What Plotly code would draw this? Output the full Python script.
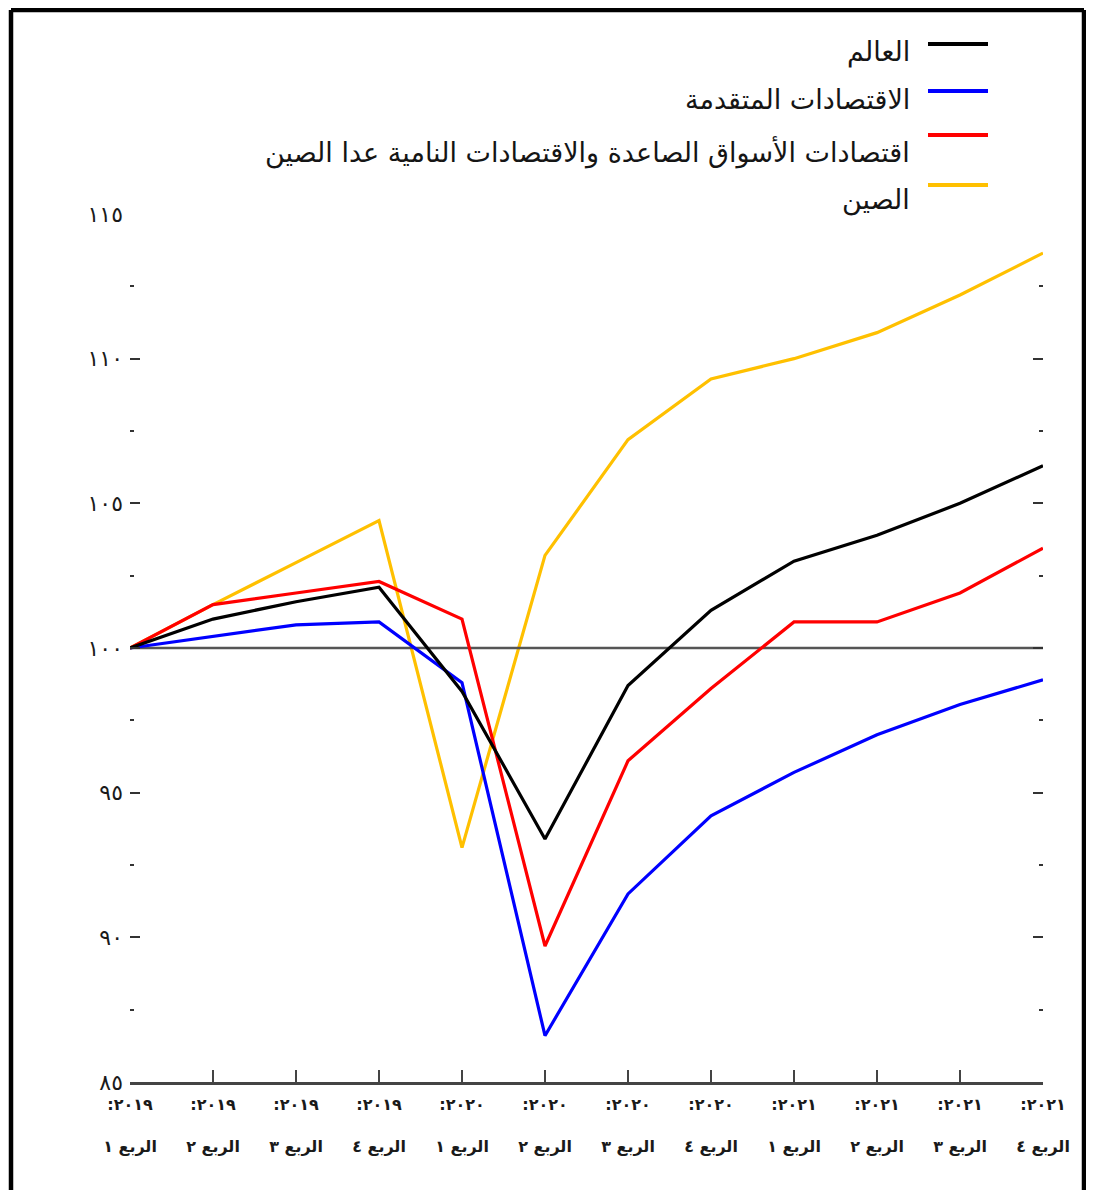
import plotly.graph_objects as go

# ---- data ----
quarters = ["الربع ١", "الربع ٢", "الربع ٣", "الربع ٤"] * 3
years = ["٢٠١٩"] * 4 + ["٢٠٢٠"] * 4 + ["٢٠٢١"] * 4
series_names = [
    "العالم",
    "الاقتصادات المتقدمة",
    "اقتصادات الأسواق الصاعدة والاقتصادات النامية عدا الصين",
    "الصين",
]
world = [100, 101.0, 101.6, 102.1, 98.5, 93.4, 98.7, 101.3, 103.0, 103.9, 105.0, 106.3]
advanced = [100, 100.4, 100.8, 100.9, 98.8, 86.6, 91.5, 94.2, 95.7, 97.0, 98.05, 98.9]
emerging = [100, 101.5, 101.9, 102.3, 101.0, 89.7, 96.1, 98.6, 100.9, 100.9, 101.9, 103.45]
china = [100, 101.5, 102.95, 104.4, 93.1, 103.2, 107.2, 109.3, 110.0, 110.9, 112.2, 113.65]
baseline = 100
y_ticks = [85, 90, 95, 100, 105, 110, 115]
y_ticktext = ["٨٥", "٩٠", "٩٥", "١٠٠", "١٠٥", "١١٠", "١١٥"]
y_minor = [87.5, 92.5, 97.5, 102.5, 107.5, 112.5]

colors = ["#000000", "#0000ff", "#ff0000", "#ffc000"]

x = list(range(len(quarters)))
ticktext = ["<b>:" + y + "</b><br> <br><b>" + q + "</b>" for y, q in zip(years, quarters)]

# page offset from the html body margin (8px on every side)
OFF = 8
W, H = 1094 - 2 * OFF, 1198 - 2 * OFF
L, T = 130 - OFF, 214 - OFF
pw, ph = 913, 868
R = W - L - pw
B = H - T - ph

def px(xpage):
    return (xpage - OFF - L) / pw

def py(ypage):
    return (T + ph - (ypage - OFF)) / ph

fig = go.Figure()
# draw order: china, baseline, advanced, emerging, world
fig.add_trace(go.Scatter(x=x, y=china, mode="lines", line=dict(color=colors[3], width=3.2),
                         name=series_names[3], showlegend=False))
fig.add_trace(go.Scatter(x=[x[0], x[-1]], y=[baseline, baseline], mode="lines",
                         line=dict(color="#555555", width=2.5), showlegend=False))
fig.add_trace(go.Scatter(x=x, y=advanced, mode="lines", line=dict(color=colors[1], width=3.2),
                         name=series_names[1], showlegend=False))
fig.add_trace(go.Scatter(x=x, y=emerging, mode="lines", line=dict(color=colors[2], width=3.2),
                         name=series_names[2], showlegend=False))
fig.add_trace(go.Scatter(x=x, y=world, mode="lines", line=dict(color=colors[0], width=3.2),
                         name=series_names[0], showlegend=False))

font_ar = "DejaVu Sans, Noto Sans, sans-serif"

# manual legend (line sample to the right of the text, as in the reference)
leg_line_y = [44, 91, 135, 185]
leg_text_y = [52, 100, 152, 200]
shapes = []
annotations = []
for i in range(4):
    shapes.append(dict(type="line", xref="paper", yref="paper",
                       x0=px(928), x1=px(988), y0=py(leg_line_y[i]), y1=py(leg_line_y[i]),
                       line=dict(color=colors[i], width=4)))
    annotations.append(dict(xref="paper", yref="paper", x=px(912), y=py(leg_text_y[i]),
                            xanchor="right", yanchor="middle", showarrow=False,
                            text=series_names[i],
                            font=dict(family=font_ar, size=27, color="#151515")))

# outer frame: left, top and right edges only (bottom edge is off-page)
fx0, fx1, fyt, fyb = px(11), px(1084), py(10), py(1230)
frame = dict(color="#000000", width=4.5)
shapes.append(dict(type="line", xref="paper", yref="paper", x0=fx0, x1=fx0, y0=fyb, y1=fyt, line=frame))
shapes.append(dict(type="line", xref="paper", yref="paper", x0=fx1, x1=fx1, y0=fyb, y1=fyt, line=frame))
shapes.append(dict(type="line", xref="paper", yref="paper", x0=fx0, x1=fx1, y0=fyt, y1=fyt, line=frame))

fig.update_layout(
    width=W, height=H,
    margin=dict(l=L, r=R, t=T, b=B),
    paper_bgcolor="white", plot_bgcolor="white",
    showlegend=False,
    shapes=shapes, annotations=annotations,
    font=dict(family=font_ar, color="#1a1a1a"),
)
fig.update_xaxes(
    range=[0, len(x) - 1], tickvals=x, ticktext=ticktext,
    showgrid=False, zeroline=False,
    showline=True, linecolor="#444444", linewidth=2.5,
    ticks="inside", ticklen=12, tickwidth=2, tickcolor="#444444",
    ticklabelstandoff=6,
    tickfont=dict(family=font_ar, size=16, color="#1a1a1a"),
)
fig.update_yaxes(
    range=[85, 115], tickvals=y_ticks, ticktext=y_ticktext,
    showgrid=False, zeroline=False, showline=False,
    ticks="inside", ticklen=10, tickwidth=2, tickcolor="#333333", mirror="ticks",
    minor=dict(tickvals=y_minor, ticks="inside", ticklen=4, tickwidth=2, tickcolor="#333333"),
    ticklabelstandoff=6,
    tickfont=dict(family=font_ar, size=22, color="#1a1a1a"),
)

fig.write_html("out.html")
